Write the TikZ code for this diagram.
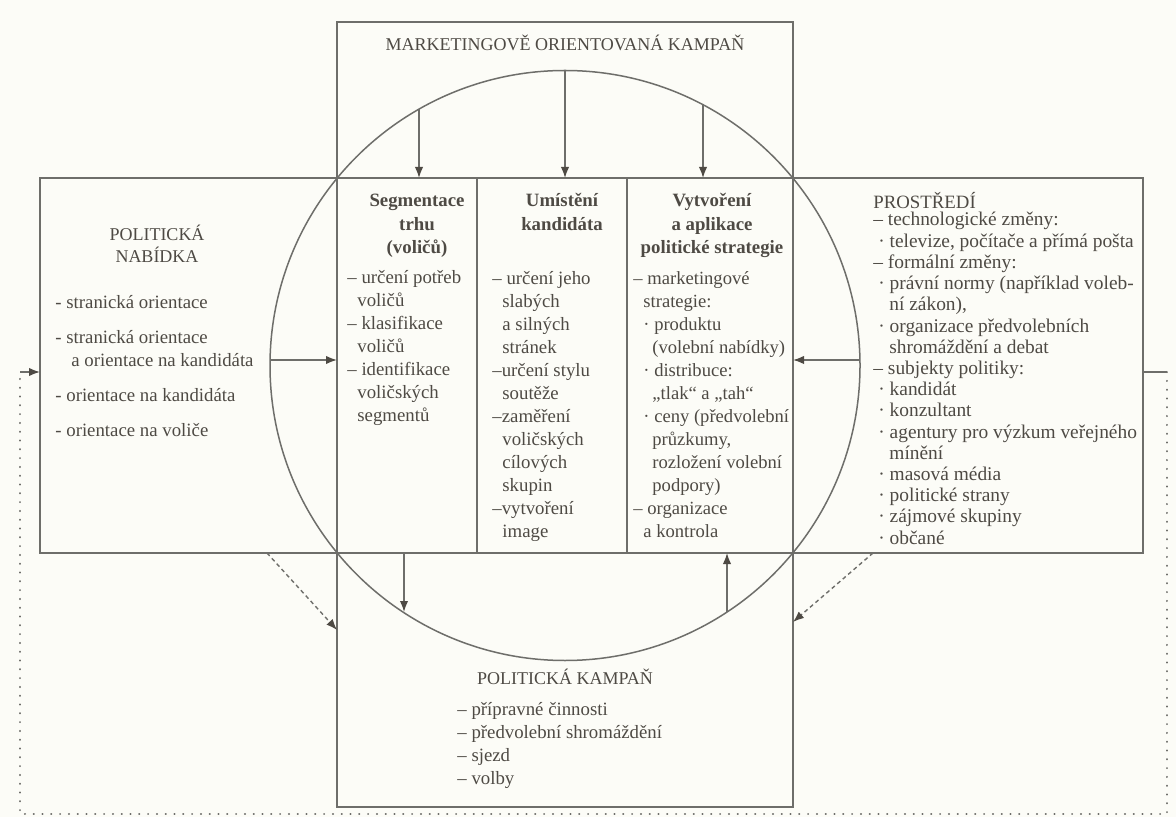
\documentclass[tikz,border=0pt]{standalone}
\usepackage{fontspec}
\setmainfont{Liberation Serif}
\usetikzlibrary{arrows.meta}
\definecolor{ink}{RGB}{78,74,68}
\definecolor{rulegray}{RGB}{110,110,106}
\definecolor{paper}{RGB}{252,252,247}
\tikzset{
  frame/.style={draw=rulegray, line width=0.75pt},
  title/.style={text=ink, inner sep=0pt, anchor=base, align=center, font=\fontsize{9}{11}\selectfont},
  head/.style={text=ink, inner sep=0pt, anchor=base, align=center, font=\fontsize{9.4}{11.6}\selectfont\bfseries},
  items/.style={text=ink, inner sep=0pt, anchor=base west, align=left, font=\fontsize{9.4}{11.5}\selectfont},
  flow/.style={draw=rulegray, line width=0.75pt, -{Latex[length=5.5pt,width=4.2pt,color=ink]}},
  back/.style={draw=rulegray, line width=0.7pt, dash pattern=on 2pt off 1.6pt, -{Latex[length=5.5pt,width=4.2pt,color=ink]}},
  loop/.style={draw=rulegray, line width=1pt, line cap=round, dash pattern=on 0.1pt off 4.3pt}
}
\newcommand{\cont}{\hspace*{5pt}}
\newcommand{\contt}{\hspace*{9.5pt}}
\begin{document}
\begin{tikzpicture}[x=0.5pt, y=-0.5pt]
  \fill[paper] (0,0) rectangle (1176,817);
  \useasboundingbox (0,0) rectangle (1176,817);

  % Frames and circle
  \draw[frame] (337,22) rectangle (793,807); % central band
  \draw[frame] (40,178) rectangle (1143,553); % horizontal band
  \draw[frame] (477,178) -- (477,553);
  \draw[frame] (627,178) -- (627,553);
  \coordinate (ctr) at (565,365.5);
  \draw[frame] (ctr) circle[radius=147.5pt];

  % Top: marketing oriented campaign
  \node[title] (mok) at (565,51) {MARKETINGOVĚ ORIENTOVANÁ KAMPAŇ};

  % Left: political offer (multi-line nodes sit on their last baseline)
  \node[title] (nab) at (157,263) {POLITICKÁ\\NABÍDKA};
  \node[items] (nabl) at (55,437) {- stranická orientace\\[6pt]- stranická orientace\\\hspace*{8pt}a orientace na kandidáta\\[6pt]- orientace na kandidáta\\[6pt]- orientace na voliče};

  % Three columns
  \node[head] (seg) at (417,253.4) {Segmentace\\trhu\\(voličů)};
  \node[items] (segl) at (347,422) {– určení potřeb\\\cont voličů\\– klasifikace\\\cont voličů\\– identifikace\\\cont voličských\\\cont segmentů};
  \node[head] (umi) at (562,230.2) {Umístění\\kandidáta};
  \node[items] (umil) at (492,537) {– určení jeho\\\cont slabých\\\cont a silných\\\cont stránek\\–určení stylu\\\cont soutěže\\–zaměření\\\cont voličských\\\cont cílových\\\cont skupin\\–vytvoření\\\cont image};
  \node[head] (vyt) at (712,253.4) {Vytvoření\\a aplikace\\politické strategie};
  \node[items, font=\fontsize{9.3}{11.5}\selectfont] (vytl) at (633,537) {– marketingové\\\cont strategie:\\\cont· produktu\\\contt(volební nabídky)\\\cont· distribuce:\\\contt„tlak“ a „tah“\\\cont· ceny (předvolební\\\contt průzkumy,\\\contt rozložení volební\\\contt podpory)\\– organizace\\\cont a kontrola};

  % Right: environment
  \node[items] (pro) at (873,209) {PROSTŘEDÍ};
  \node[items, font=\fontsize{9.7}{10.6}\selectfont] (prol) at (873,544) {– technologické změny:\\\hspace*{2.5pt}· televize, počítače a přímá pošta\\– formální změny:\\\hspace*{2.5pt}· právní normy (například voleb-\\\hspace*{8pt}ní zákon),\\\hspace*{2.5pt}· organizace předvolebních\\\hspace*{8pt}shromáždění a debat\\– subjekty politiky:\\\hspace*{2.5pt}· kandidát\\\hspace*{2.5pt}· konzultant\\\hspace*{2.5pt}· agentury pro výzkum veřejného\\\hspace*{8pt}mínění\\\hspace*{2.5pt}· masová média\\\hspace*{2.5pt}· politické strany\\\hspace*{2.5pt}· zájmové skupiny\\\hspace*{2.5pt}· občané};

  % Bottom: political campaign
  \node[title] (kam) at (565,684) {POLITICKÁ KAMPAŇ};
  \node[items, font=\fontsize{9.4}{11.35}\selectfont] (kaml) at (457,784) {– přípravné činnosti\\– předvolební shromáždění\\– sjezd\\– volby};

  % Arrow ends
  \coordinate (a1) at (419,109);  \coordinate (b1) at (419,178);
  \coordinate (a2) at (565,70.5); \coordinate (b2) at (565,178);
  \coordinate (a3) at (703,104);  \coordinate (b3) at (703,178);
  \coordinate (a4) at (270,360);  \coordinate (b4) at (337,360);
  \coordinate (a5) at (860,360);  \coordinate (b5) at (793,360);
  \coordinate (a6) at (404,553);  \coordinate (b6) at (404,612);
  \coordinate (a7) at (727,612);  \coordinate (b7) at (727,553);
  \coordinate (d1) at (267,553);  \coordinate (e1) at (337,630);
  \coordinate (d2) at (873,553);  \coordinate (e2) at (793,622);
  \coordinate (r0) at (1143,372); \coordinate (r1) at (1167,372);
  \coordinate (r2) at (1167,814); \coordinate (l2) at (20,814);
  \coordinate (l1) at (20,372);   \coordinate (l0) at (40,372);

  \draw[flow] (a1) -- (b1);
  \draw[flow] (a2) -- (b2);
  \draw[flow] (a3) -- (b3);
  \draw[flow] (a4) -- (b4);
  \draw[flow] (a5) -- (b5);
  \draw[flow] (a6) -- (b6);
  \draw[flow] (a7) -- (b7);
  \draw[back] (d1) -- (e1);
  \draw[back] (d2) -- (e2);

  % Feedback loop
  \draw[frame] (r0) -- (r1);
  \draw[loop] (r1) -- (r2) -- (l2) -- (l1);
  \draw[flow] (l1) -- (l0);
\end{tikzpicture}
\end{document}
